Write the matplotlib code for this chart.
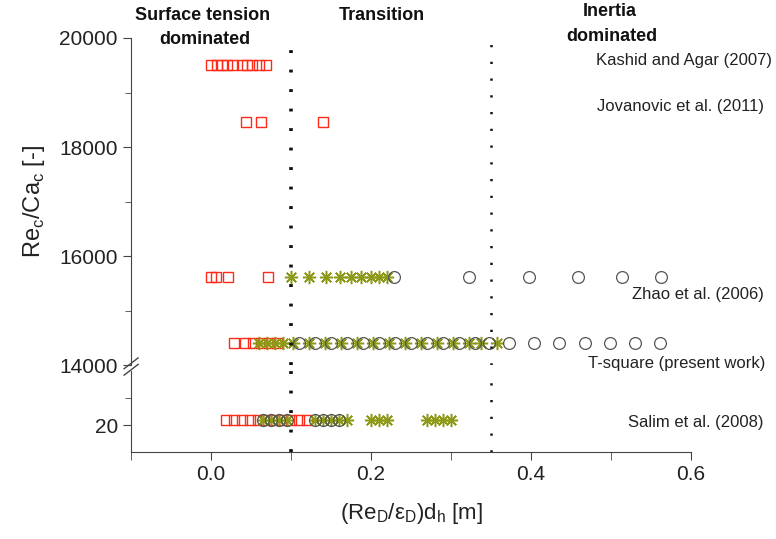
import matplotlib
matplotlib.use("Agg")
import matplotlib.pyplot as plt
from matplotlib.lines import Line2D
from matplotlib.ticker import MultipleLocator, FixedLocator, FormatStrFormatter

plt.rcParams['font.family'] = ['Liberation Sans', 'DejaVu Sans']

# ---- data ----
kashid_x = [0.0, 0.0075, 0.014, 0.02, 0.0275, 0.039, 0.045, 0.051, 0.06, 0.069]
kashid_y = 19500

jovanovic_x = [0.044, 0.0625, 0.14]
jovanovic_y = 18450

zhao_y = 15620
zhao_sq_x = [0.0, 0.006, 0.021, 0.071]
zhao_ast_x = [0.1, 0.1225, 0.144, 0.161, 0.175, 0.1875, 0.2, 0.21, 0.22]
zhao_circ_x = [0.229, 0.3225, 0.3975, 0.459, 0.514, 0.5625]

tsq_y = 14400
tsq_sq_x = [0.029, 0.042, 0.053, 0.063, 0.073, 0.083]
tsq_ast_x = [0.06, 0.07, 0.08, 0.09, 0.1025, 0.1225, 0.1425, 0.1625, 0.1825,
             0.2025, 0.2225, 0.2425, 0.2625, 0.2825, 0.3025, 0.3225, 0.3375, 0.3575]
tsq_circ_x = [0.11, 0.13, 0.15, 0.17, 0.19, 0.21, 0.23, 0.25, 0.27, 0.29, 0.31,
              0.33, 0.347, 0.3725, 0.404, 0.435, 0.4675, 0.499, 0.53, 0.561]

salim_y = 21
salim_sq_x = [0.019, 0.029, 0.039, 0.049, 0.059, 0.069, 0.079, 0.089, 0.1, 0.11, 0.12]
salim_ast_x = [0.065, 0.075, 0.085, 0.095, 0.13, 0.14, 0.15, 0.16, 0.17,
               0.2, 0.21, 0.22, 0.27, 0.28, 0.29, 0.30]
salim_circ_x = [0.065, 0.075, 0.085, 0.095, 0.13, 0.14, 0.15, 0.16]

boundaries = [0.1, 0.35]

red = '#ff2a1a'
olive = '#8c9a18'
grey = '#555555'
spine_col = '#444444'

sq = dict(marker='s', ms=7, mfc='none', mec=red, mew=1.0, ls='none')
ast = dict(marker=(8, 2, 0), ms=9.5, mec=olive, mew=1.1, ls='none')
circ = dict(marker='o', ms=8.5, mfc='none', mec=grey, mew=0.9, ls='none')

fig = plt.figure(figsize=(7.76, 5.39), dpi=100)
ax_top = fig.add_axes([0.1688, 0.3228, 0.7217, 0.6067])
ax_bot = fig.add_axes([0.1688, 0.1614, 0.7217, 0.1503])

# upper segment
ax_top.plot(kashid_x, [kashid_y] * len(kashid_x), **sq)
ax_top.plot(jovanovic_x, [jovanovic_y] * len(jovanovic_x), **sq)
ax_top.plot(zhao_sq_x, [zhao_y] * len(zhao_sq_x), **sq)
ax_top.plot(zhao_ast_x, [zhao_y] * len(zhao_ast_x), **ast)
ax_top.plot(zhao_circ_x, [zhao_y] * len(zhao_circ_x), **circ)
ax_top.plot(tsq_sq_x, [tsq_y] * len(tsq_sq_x), **sq)
ax_top.plot(tsq_ast_x, [tsq_y] * len(tsq_ast_x), **ast)
ax_top.plot(tsq_circ_x, [tsq_y] * len(tsq_circ_x), **circ)

# lower segment
ax_bot.plot(salim_sq_x, [salim_y] * len(salim_sq_x), **sq)
ax_bot.plot(salim_ast_x, [salim_y] * len(salim_ast_x), **ast)
ax_bot.plot(salim_circ_x, [salim_y] * len(salim_circ_x), **circ)

for ax in (ax_top, ax_bot):
    ax.set_xlim(-0.1, 0.6)
    for s in ('top', 'right'):
        ax.spines[s].set_visible(False)
    for s in ('left', 'bottom'):
        ax.spines[s].set_color(spine_col)
    ax.tick_params(which='both', direction='out', colors=spine_col,
                   labelcolor='#222222', labelsize=15)
    ax.tick_params(which='major', length=6)
    ax.tick_params(which='minor', length=4)
    # regime boundaries
    ax.axvline(boundaries[0], color='#111111', lw=2.6, ls=(0, (0.8, 4.6)))
    ax.axvline(boundaries[1], color='#111111', lw=1.8, ls=(0, (0.9, 5.8)))

ax_top.set_ylim(14000, 20000)
ax_top.yaxis.set_major_locator(MultipleLocator(2000))
ax_top.yaxis.set_minor_locator(MultipleLocator(1000))
ax_top.spines['bottom'].set_visible(False)
ax_top.tick_params(axis='x', which='both', bottom=False, labelbottom=False)
ax_top.set_ylabel(r'Re$_\mathregular{c}$/Ca$_\mathregular{c}$ [-]', fontsize=17,
                  color='#222222', labelpad=9)

ax_bot.set_ylim(15, 30)
ax_bot.yaxis.set_major_locator(FixedLocator([20]))
ax_bot.yaxis.set_minor_locator(FixedLocator([25]))
ax_bot.xaxis.set_major_locator(MultipleLocator(0.2))
ax_bot.xaxis.set_minor_locator(MultipleLocator(0.1))
ax_bot.xaxis.set_major_formatter(FormatStrFormatter('%.1f'))
ax_bot.tick_params(axis='x', which='both', length=6)
ax_bot.set_xlabel(r'(Re$_\mathregular{D}$/ε$_\mathregular{D}$)d$_\mathregular{h}$ [m]',
                  fontsize=16, color='#222222', labelpad=12)

# axis break marks
for dy in (0.0, 0.012):
    fig.add_artist(Line2D([0.16, 0.178], [0.316 - dy, 0.336 - dy],
                          transform=fig.transFigure, color=spine_col, lw=1.0))

# series labels at the right
lab = dict(ha='right', va='center', fontsize=12, color='#222222', clip_on=False)
ax_top.text(0.701, 19580, 'Kashid and Agar (2007)', **lab)
ax_top.text(0.691, 18735, 'Jovanovic et al. (2011)', **lab)
ax_top.text(0.691, 15285, 'Zhao et al. (2006)', **lab)
ax_top.text(0.693, 14020, 'T-square (present work)', **lab)
ax_bot.text(0.691, 20.5, 'Salim et al. (2008)', **lab)

# regime headings
head = dict(ha='center', va='center', fontsize=13, fontweight='bold',
            color='#111111', clip_on=False)
ax_top.text(-0.011, 20420, 'Surface tension', **head)
ax_top.text(-0.0075, 19965, 'dominated', **head)
ax_top.text(0.214, 20420, 'Transition', **head)
ax_top.text(0.499, 20480, 'Inertia', **head)
ax_top.text(0.501, 20020, 'dominated', **head)

fig.savefig('out.png', dpi=100)
